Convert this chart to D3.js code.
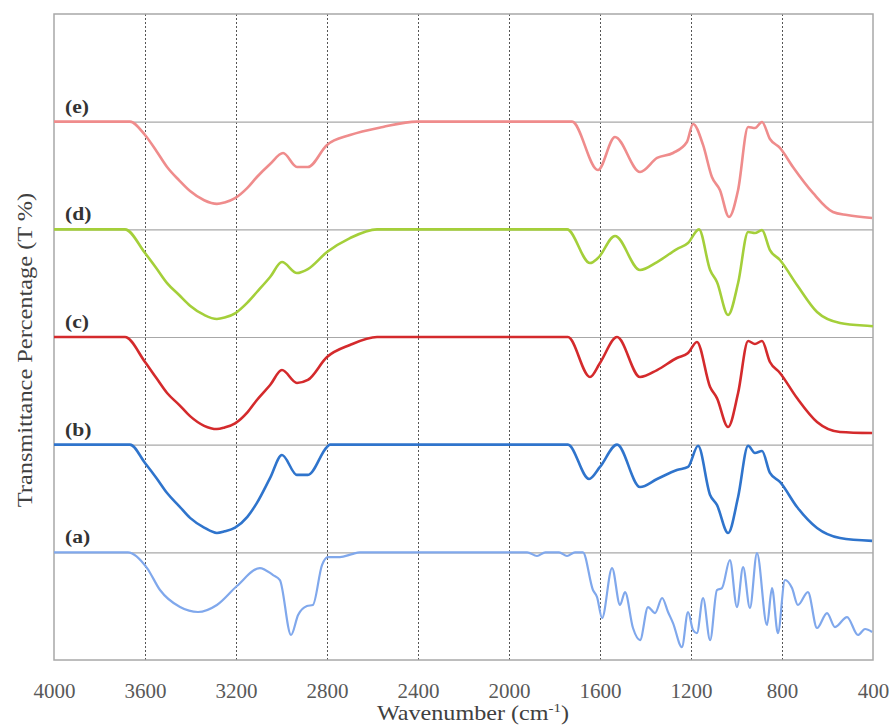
<!DOCTYPE html>
<html>
<head>
<meta charset="utf-8">
<script src="https://cdn.jsdelivr.net/npm/d3@7"></script>
<style>
  html, body { margin: 0; padding: 0; background: #ffffff; }
  svg { display: block; }
</style>
</head>
<body>
<svg id="chart" width="889" height="726"></svg>
<script>
// ---------------- DATA ----------------
const xTicks = [4000, 3600, 3200, 2800, 2400, 2000, 1600, 1200, 800, 400];
const baselineTicks = [100, 200, 300, 400, 500];
const seriesLabels = ["(a)", "(b)", "(c)", "(d)", "(e)"];
const seriesOffsets = [0, 100, 200, 300, 400];
const seriesColors = ["#80a8ec", "#2f74cc", "#d42a2c", "#a4cf3a", "#ef8c8c"];

// (a)
const wnA = [4000, 3675, 3591, 3534, 3446, 3367, 3284, 3196, 3095, 3037, 3007, 2958, 2927, 2888, 2862, 2822, 2796, 2743, 2690, 2655,
  1920, 1877, 1840, 1780, 1745, 1710, 1675, 1631, 1613, 1591, 1547, 1512, 1490, 1455, 1424, 1389, 1358, 1327, 1301, 1279, 1240,
  1213, 1191, 1174, 1147, 1116, 1086, 1064, 1029, 998, 971, 941, 910, 866, 844, 818, 787, 756, 730, 686, 646, 602, 567, 514, 466, 435, 404];
const tA = [100, 100, 85.4, 65.0, 49.2, 44.6, 51.1, 68.7, 85.4, 78.9, 74.3, 23.2, 41.8, 50.1, 51.1, 88.2, 95.6, 95.6, 98.4, 100,
  100, 96.6, 100, 100, 96.6, 100, 100, 65.0, 58.5, 39.0, 85.4, 51.1, 63.1, 29.7, 18.5, 49.2, 43.6, 57.6, 44.6, 34.3, 12.0,
  44.6, 27.8, 25.0, 57.6, 18.5, 65.0, 66.8, 92.8, 49.2, 86.3, 48.3, 99.3, 32.5, 66.8, 25.0, 74.3, 66.8, 51.1, 63.1, 29.7, 43.6, 30.6, 39.9, 23.2, 28.8, 26.0];

// (b)
const wnB = [4000, 3666, 3600, 3550, 3503, 3450, 3402, 3340, 3284, 3250, 3204, 3150, 3108, 3050, 2998, 2932, 2884, 2800, 2787,
  1741, 1648, 1600, 1525, 1424, 1349, 1262, 1213, 1169, 1116, 1086, 1037, 993, 949, 919, 888, 853, 809, 734, 646, 545, 404];
const tB = [100, 100, 83.0, 69.1, 55.1, 43.0, 32.0, 23.0, 18.0, 19.5, 23.0, 33.0, 45.9, 69.1, 90.4, 71.9, 71.9, 97.9, 100,
  100, 68.1, 79.3, 100, 60.7, 68.1, 76.5, 79.3, 99.0, 53.3, 44.0, 18.0, 51.4, 99.0, 92.3, 94.1, 73.7, 65.4, 42.1, 22.6, 13.3, 10.6];

// (c)
const wnC = [4000, 3688, 3600, 3550, 3503, 3450, 3402, 3340, 3284, 3250, 3204, 3150, 3108, 3050, 2998, 2932, 2884, 2800, 2699, 2580,
  1741, 1644, 1600, 1525, 1424, 1349, 1262, 1213, 1174, 1116, 1086, 1037, 993, 949, 919, 888, 853, 809, 734, 646, 545, 404];
const tC = [100, 100, 76.8, 61.9, 48.0, 37.0, 26.5, 17.5, 14.5, 16.0, 19.8, 30.0, 41.5, 55.4, 69.3, 57.3, 60.1, 81.4, 92.6, 100,
  100, 62.8, 75.9, 100, 62.8, 69.3, 80.5, 85.1, 95.4, 53.6, 43.3, 16.4, 48.0, 96.3, 93.5, 96.3, 76.8, 66.6, 43.3, 21.1, 11.8, 10.8];

// (d)
const wnD = [4000, 3688, 3600, 3550, 3503, 3450, 3402, 3340, 3284, 3250, 3204, 3150, 3108, 3050, 2998, 2932, 2884, 2800, 2699, 2580,
  1745, 1644, 1609, 1534, 1424, 1349, 1262, 1213, 1165, 1116, 1086, 1037, 993, 949, 919, 888, 853, 809, 734, 646, 545, 413, 400];
const tD = [100, 100, 78.0, 63.9, 50.1, 39.0, 29.0, 20.5, 16.7, 18.0, 22.0, 32.0, 41.8, 55.7, 69.6, 59.4, 63.1, 78.9, 91.9, 100,
  100, 68.7, 73.3, 93.8, 62.2, 69.6, 81.7, 87.3, 100, 62.2, 51.1, 20.4, 50.1, 97.5, 96.6, 99.3, 80.8, 71.5, 48.3, 23.2, 13.0, 10.2, 10.0];

// (e)
const wnE = [4000, 3666, 3600, 3550, 3503, 3450, 3402, 3340, 3284, 3250, 3204, 3150, 3108, 3050, 2993, 2932, 2884, 2800, 2699, 2554, 2404,
  1723, 1609, 1534, 1424, 1349, 1279, 1218, 1191, 1147, 1108, 1073, 1033, 993, 949, 919, 888, 853, 809, 752, 664, 576, 514, 404];
const tE = [100, 100, 87.6, 72.8, 57.9, 45.5, 35.5, 27.0, 23.6, 25.0, 29.0, 38.5, 48.6, 60.7, 70.9, 57.9, 57.9, 78.4, 87.6, 95.1, 100,
  100, 55.1, 85.8, 53.3, 66.3, 70.9, 81.1, 97.9, 78.4, 48.6, 36.6, 11.5, 36.6, 95.1, 94.1, 99.7, 83.9, 75.6, 57.9, 33.8, 16.1, 13.3, 10.6];

const seriesWn = [wnA, wnB, wnC, wnD, wnE];
const seriesT = [tA, tB, tC, tD, tE];

// ---------------- LAYOUT ----------------
const W = 889, H = 726;
const margin = { left: 54, top: 14, right: 16, bottom: 66 };
const svg = d3.select("#chart");

const x = d3.scaleLinear().domain([4000, 400]).range([margin.left, W - margin.right]);
const y = d3.scaleLinear().domain([0, 600]).range([H - margin.bottom, margin.top]);

const serif = "'Liberation Serif', 'Times New Roman', 'DejaVu Serif', serif";

// vertical dashed gridlines
svg.append("g")
  .attr("transform", `translate(0,${H - margin.bottom})`)
  .call(d3.axisBottom(x).tickValues(xTicks.slice(1, -1)).tickSize(-(H - margin.top - margin.bottom)).tickFormat(""))
  .call(g => g.select(".domain").remove())
  .call(g => g.selectAll("line").attr("stroke", "#555").attr("stroke-width", 1).attr("stroke-dasharray", "2,2"));

// horizontal baseline gridlines
svg.append("g")
  .attr("transform", `translate(${margin.left},0)`)
  .call(d3.axisLeft(y).tickValues(baselineTicks).tickSize(-(W - margin.left - margin.right)).tickFormat(""))
  .call(g => g.select(".domain").remove())
  .call(g => g.selectAll("line").attr("stroke", "#a8a8a8").attr("stroke-width", 1.2));

// frame
svg.append("rect")
  .attr("x", margin.left).attr("y", margin.top)
  .attr("width", W - margin.left - margin.right)
  .attr("height", H - margin.top - margin.bottom)
  .attr("fill", "none").attr("stroke", "#a8a8a8").attr("stroke-width", 1.5);

// x axis labels
const xAxis = svg.append("g")
  .attr("transform", `translate(0,${H - margin.bottom})`)
  .call(d3.axisBottom(x).tickValues(xTicks).tickSize(0).tickPadding(23).tickFormat(d3.format("d")));
xAxis.select(".domain").remove();
xAxis.selectAll("text")
  .attr("font-family", serif).attr("font-size", 21).attr("fill", "#595959");

// spectra
const line = d3.line()
  .x(d => x(d[0]))
  .y(d => y(d[1]))
  .curve(d3.curveMonotoneX);

seriesWn.forEach((wn, i) => {
  const pts = wn.map((w, j) => [w, seriesT[i][j] + seriesOffsets[i]]);
  svg.append("path")
    .datum(pts)
    .attr("fill", "none")
    .attr("stroke", seriesColors[i])
    .attr("stroke-width", i === 0 ? 2.2 : 2.6)
    .attr("stroke-linejoin", "round")
    .attr("d", line);
});

// series labels
seriesLabels.forEach((lab, i) => {
  svg.append("text")
    .attr("transform", `translate(${margin.left + 11},${y(seriesOffsets[i] + 100) - 9}) scale(1.2,1)`)
    .attr("font-family", serif)
    .attr("font-weight", "bold")
    .attr("font-size", 18)
    .attr("fill", "#333")
    .text(lab);
});

// x title
const xt = svg.append("text")
  .attr("transform", `translate(473,720) scale(1.15,1)`)
  .attr("text-anchor", "middle")
  .attr("font-family", serif)
  .attr("font-size", 21)
  .attr("fill", "#404040");
xt.append("tspan").text("Wavenumber (cm");
xt.append("tspan").attr("dy", -8).attr("font-size", 13).text("-1");
xt.append("tspan").attr("dy", 8).text(")");

// y title
svg.append("text")
  .attr("transform", `translate(32,350) rotate(-90) scale(1.16,1)`)
  .attr("text-anchor", "middle")
  .attr("font-family", serif)
  .attr("font-size", 21)
  .attr("fill", "#404040")
  .text("Transmittance Percentage (T %)");
</script>
</body>
</html>
